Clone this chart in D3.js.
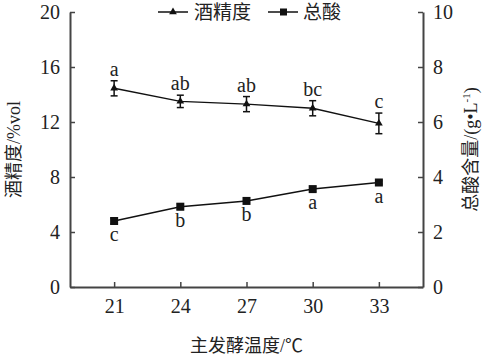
<!DOCTYPE html>
<html>
<head>
  <meta charset="utf-8">
  <script src="https://d3js.org/d3.v7.min.js"></script>
  <style>
    body { margin: 0; background: #fff; }
    svg text { font-family: "Liberation Serif", "Times New Roman", "Noto Sans CJK SC", serif; fill: #222; }
    .axis path, .axis line { stroke: #444; }
  </style>
</head>
<body>
  <script>
    // Data
    var temps = [21, 24, 27, 30, 33];
    var alcohol = [14.45, 13.5, 13.3, 13.0, 11.9];
    var alcoholErr = [0.55, 0.45, 0.55, 0.55, 0.75];
    var alcoholLetters = ["a", "ab", "ab", "bc", "c"];
    var acid = [2.4, 2.92, 3.13, 3.56, 3.8];
    var acidErr = [0.1, 0.1, 0.06, 0.08, 0.06];
    var acidLetters = ["c", "b", "b", "a", "a"];
    var leftTicks = [0, 4, 8, 12, 16, 20];
    var rightTicks = [0, 2, 4, 6, 8, 10];

    var margin = {top: 12, right: 66, bottom: 73, left: 70};
    var W = 489, H = 360;
    var width = W - margin.left - margin.right;
    var height = H - margin.top - margin.bottom;

    var svg = d3.select("body").append("svg")
      .attr("width", W).attr("height", H);
    var g = svg.append("g")
      .attr("transform", "translate(" + margin.left + "," + margin.top + ")");

    var x = d3.scaleLinear().domain([19, 35]).range([0, width]);
    var yL = d3.scaleLinear().domain([0, 20]).range([height, 0]);
    var yR = d3.scaleLinear().domain([0, 10]).range([height, 0]);

    // axes, ticks pointing inward
    g.append("g").attr("class", "axis")
      .attr("transform", "translate(0," + height + ")")
      .call(d3.axisBottom(x).tickValues(temps).tickSize(-5).tickSizeOuter(0).tickPadding(12));
    g.append("g").attr("class", "axis")
      .call(d3.axisLeft(yL).tickValues(leftTicks).tickSize(-5).tickSizeOuter(0).tickPadding(10));
    g.append("g").attr("class", "axis")
      .attr("transform", "translate(" + width + ",0)")
      .call(d3.axisRight(yR).tickValues(rightTicks).tickSize(-5).tickSizeOuter(0).tickPadding(10));

    g.selectAll(".axis").attr("font-family", null);
    g.selectAll(".axis path").attr("stroke-width", 2);
    g.selectAll(".axis line").attr("stroke-width", 1.5);
    g.selectAll(".axis text").style("font-size", "20px").attr("fill", "#222");

    // series lines
    var lineA = d3.line().x(function(d, i) { return x(temps[i]); }).y(function(d) { return yL(d); });
    var lineB = d3.line().x(function(d, i) { return x(temps[i]); }).y(function(d) { return yR(d); });

    g.append("path").datum(alcohol).attr("d", lineA)
      .attr("fill", "none").attr("stroke", "#111").attr("stroke-width", 1.5);
    g.append("path").datum(acid).attr("d", lineB)
      .attr("fill", "none").attr("stroke", "#111").attr("stroke-width", 1.5);

    // error bars
    function errorBars(vals, errs, y) {
      vals.forEach(function(v, i) {
        var cx = x(temps[i]);
        var t = y(v + errs[i]), b = y(v - errs[i]);
        g.append("line").attr("x1", cx).attr("x2", cx).attr("y1", t).attr("y2", b)
          .attr("stroke", "#111").attr("stroke-width", 1.5);
        [t, b].forEach(function(yy) {
          g.append("line").attr("x1", cx - 3.5).attr("x2", cx + 3.5).attr("y1", yy).attr("y2", yy)
            .attr("stroke", "#111").attr("stroke-width", 1.5);
        });
      });
    }
    errorBars(alcohol, alcoholErr, yL);
    errorBars(acid, acidErr, yR);

    // markers
    var tri = d3.symbol().type(d3.symbolTriangle).size(26);
    g.selectAll(".tri").data(alcohol).enter().append("path")
      .attr("d", tri).attr("fill", "#111")
      .attr("transform", function(d, i) { return "translate(" + x(temps[i]) + "," + yL(d) + ")"; });
    g.selectAll(".sq").data(acid).enter().append("rect")
      .attr("x", function(d, i) { return x(temps[i]) - 4; })
      .attr("y", function(d) { return yR(d) - 4; })
      .attr("width", 8).attr("height", 8).attr("fill", "#111");

    // significance letters
    g.selectAll(".la").data(alcohol).enter().append("text")
      .attr("x", function(d, i) { return x(temps[i]); })
      .attr("y", function(d, i) { return yL(d + alcoholErr[i]) - 5; })
      .attr("text-anchor", "middle").style("font-size", "20px")
      .text(function(d, i) { return alcoholLetters[i]; });
    g.selectAll(".lb").data(acid).enter().append("text")
      .attr("x", function(d, i) { return x(temps[i]); })
      .attr("y", function(d) { return yR(d) + 20; })
      .attr("text-anchor", "middle").style("font-size", "20px")
      .text(function(d, i) { return acidLetters[i]; });

    // axis titles
    svg.append("text")
      .attr("x", margin.left + width / 2).attr("y", 352)
      .attr("text-anchor", "middle").style("font-size", "18px")
      .text("主发酵温度/℃");
    svg.append("text")
      .attr("transform", "translate(20," + (margin.top + height / 2) + ") rotate(-90)")
      .attr("text-anchor", "middle").style("font-size", "18px")
      .text("酒精度/%vol");
    var rt = svg.append("text")
      .attr("transform", "translate(477," + (margin.top + height / 2) + ") rotate(-90)")
      .attr("text-anchor", "middle").style("font-size", "18px");
    rt.append("tspan").text("总酸含量/(g•L");
    rt.append("tspan").attr("dy", -7).style("font-size", "11px").text("-1");
    rt.append("tspan").attr("dy", 7).text(")");

    // legend
    var legend = svg.append("g").attr("transform", "translate(158,12)");
    legend.append("line").attr("x1", 0).attr("x2", 30).attr("y1", 0).attr("y2", 0)
      .attr("stroke", "#111").attr("stroke-width", 1.5);
    legend.append("path").attr("d", tri).attr("fill", "#111").attr("transform", "translate(15,0)");
    legend.append("text").attr("x", 36).attr("y", 7).style("font-size", "19px").text("酒精度");
    legend.append("line").attr("x1", 110).attr("x2", 140).attr("y1", 0).attr("y2", 0)
      .attr("stroke", "#111").attr("stroke-width", 1.5);
    legend.append("rect").attr("x", 122).attr("y", -3.5).attr("width", 7).attr("height", 7).attr("fill", "#111");
    legend.append("text").attr("x", 145).attr("y", 7).style("font-size", "19px").text("总酸");
  </script>
</body>
</html>
